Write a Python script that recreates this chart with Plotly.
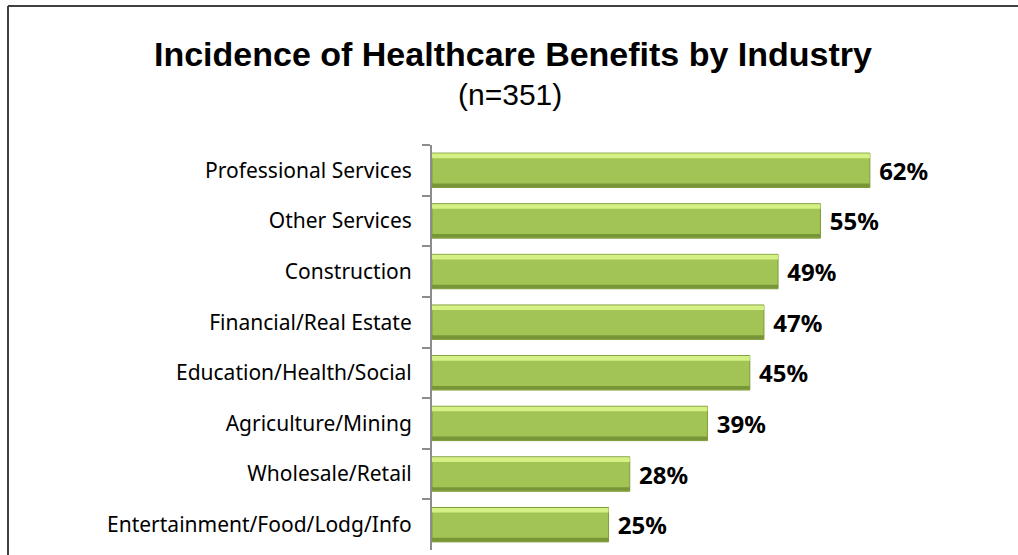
import plotly.graph_objects as go

categories = ["Professional Services", "Other Services", "Construction",
              "Financial/Real Estate", "Education/Health/Social",
              "Agriculture/Mining", "Wholesale/Retail",
              "Entertainment/Food/Lodg/Info"]
values = [62, 55, 49, 47, 45, 39, 28, 25]

title_text = "Incidence of Healthcare Benefits by Industry"
subtitle_text = "(n=351)"

W, H = 1018, 555
ml, mr, mt, mb = 432, 21, 145, 5
pw = W - ml - mr
ph = H - mt - mb

def px_x(x):
    return (x - ml) / pw

def px_y(y):
    return (H - mb - y) / ph

fig = go.Figure()

# main bar body
fig.add_trace(go.Bar(
    y=categories, x=values, orientation="h",
    width=0.68, offset=-0.34,
    marker=dict(color="#a2c455", line=dict(color="#7e9c3a", width=1)),
    texttemplate="\u00a0%{x}%", textposition="outside",
    textfont=dict(family="Noto Sans", size=24, color="#000000", weight="bold"),
    cliponaxis=False, hoverinfo="skip", showlegend=False,
))
# top highlight
fig.add_trace(go.Bar(
    y=categories, x=values, orientation="h",
    width=0.09, offset=-0.33,
    marker=dict(color="#d5f084", line=dict(width=0)),
    hoverinfo="skip", showlegend=False,
))
# bottom shade
fig.add_trace(go.Bar(
    y=categories, x=values, orientation="h",
    width=0.07, offset=0.26,
    marker=dict(color="#789638", line=dict(width=0)),
    hoverinfo="skip", showlegend=False,
))

fig.update_layout(
    width=W, height=H,
    margin=dict(l=ml, r=mr, t=mt, b=mb, pad=0),
    paper_bgcolor="white", plot_bgcolor="white",
    barmode="overlay",
    xaxis=dict(range=[0, 80], visible=False, fixedrange=True),
    yaxis=dict(
        autorange="reversed", type="category",
        showline=True, linecolor="#8c8c8c", linewidth=2,
        ticks="outside", ticklen=8, tickcolor="#8c8c8c", tickwidth=1.5,
        tickson="boundaries", ticklabelstandoff=14,
        tickfont=dict(family="Noto Sans", size=21, color="#000000"),
        showgrid=False, zeroline=False,
    ),
    annotations=[
        dict(text=title_text, x=px_x(513), y=px_y(54), xref="paper", yref="paper",
             showarrow=False, xanchor="center", yanchor="middle",
             font=dict(family="Liberation Sans", size=34, color="#000000", weight="bold")),
        dict(text=subtitle_text, x=px_x(510), y=px_y(95), xref="paper", yref="paper",
             showarrow=False, xanchor="center", yanchor="middle",
             font=dict(family="Liberation Sans", size=30, color="#000000")),
    ],
    shapes=[
        dict(type="line", xref="paper", yref="paper",
             x0=px_x(8), x1=px_x(8), y0=px_y(6), y1=px_y(560),
             line=dict(color="#000000", width=1.5)),
        dict(type="line", xref="paper", yref="paper",
             x0=px_x(8), x1=px_x(1030), y0=px_y(6), y1=px_y(6),
             line=dict(color="#404040", width=2)),
    ],
)

fig.write_html("out.html")
